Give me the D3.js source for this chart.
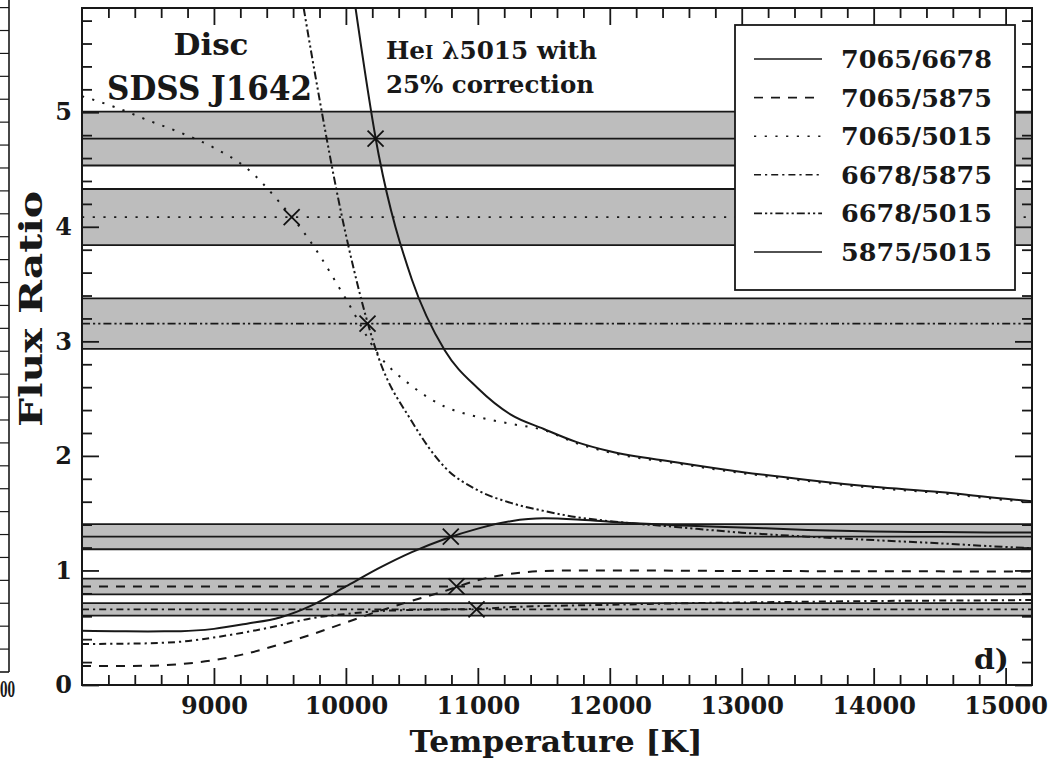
<!DOCTYPE html>
<html>
<head>
<meta charset="utf-8">
<script src="https://cdn.jsdelivr.net/npm/d3@7/dist/d3.min.js"></script>
<style>
  html, body { margin: 0; padding: 0; background: #fff; }
  svg { display: block; font-family: "DejaVu Serif", serif; font-weight: bold; }
</style>
</head>
<body>
<svg id="chart" width="1049" height="762"></svg>
<script>
// Model temperature grid (K)
const temps = [8000, 8250, 8500, 8750, 9000, 9250, 9500, 9750, 10000, 10250, 10500, 10750,
               11000, 11250, 11500, 11750, 12000, 12500, 13000, 13500, 14000, 14500, 15000, 15200];

// Model line-flux ratios (null where off the plotted range)
const ratio7065_6678 = [null, null, null, null, null, null, null, 8.6, 6.5, 4.62, 3.54, 2.92,
                        2.59, 2.36, 2.235, 2.12, 2.04, 1.945, 1.86, 1.79, 1.73, 1.685, 1.625, 1.605];
const ratio7065_5875 = [0.166, 0.166, 0.168, 0.183, 0.217, 0.275, 0.355, 0.445, 0.545, 0.645, 0.735, 0.82,
                        0.915, 0.97, 0.995, 1.0, 1.0, 0.998, 0.995, 0.994, 0.993, 0.992, 0.99, 0.99];
const ratio7065_5015 = [5.14, 5.045, 4.93, 4.82, 4.69, 4.51, 4.21, 3.84, 3.37, 2.88, 2.61, 2.43,
                        2.34, 2.28, 2.225, 2.11, 2.03, 1.935, 1.85, 1.78, 1.72, 1.675, 1.615, 1.595];
const ratio6678_5875 = [0.358, 0.36, 0.364, 0.378, 0.415, 0.463, 0.52, 0.585, 0.62, 0.645, 0.655, 0.66,
                        0.665, 0.68, 0.69, 0.695, 0.70, 0.713, 0.72, 0.727, 0.733, 0.737, 0.74, 0.742];
const ratio6678_5015 = [null, null, null, null, null, null, 7.2, 5.44, 3.93, 2.85, 2.30, 1.90,
                        1.70, 1.59, 1.52, 1.465, 1.43, 1.38, 1.33, 1.295, 1.265, 1.237, 1.205, 1.194];
const ratio5875_5015 = [0.474, 0.47, 0.468, 0.47, 0.49, 0.535, 0.59, 0.70, 0.86, 1.02, 1.16, 1.275,
                        1.365, 1.43, 1.455, 1.445, 1.425, 1.395, 1.375, 1.354, 1.34, 1.335, 1.332, 1.332];

// Series names (legend order)
const seriesNames = ["7065/6678", "7065/5875", "7065/5015", "6678/5875", "6678/5015", "5875/5015"];

// Observed ratios and their uncertainties, same order as the series
const observedRatio = [4.77, 0.86, 4.085, 0.66, 3.155, 1.295];
const observedError = [0.235, 0.068, 0.245, 0.055, 0.22, 0.11];
// Temperatures where each model crosses its observed value
const crossTemps = [10225, 10838, 9589, 10990, 10164, 10795];

// Axis ticks
const xMajorTicks = [9000, 10000, 11000, 12000, 13000, 14000, 15000];
const yMajorTicks = [0, 1, 2, 3, 4, 5];

(function () {
  const seriesValues = [ratio7065_6678, ratio7065_5875, ratio7065_5015, ratio6678_5875, ratio6678_5015, ratio5875_5015];
  const dashes = [null, "9,8", "2.2,8.5", "7,4,2.2,4", "8,3,2.2,3,2.2,3", null];
  const ink = "#181818";

  const svg = d3.select("#chart");
  const W = 1049, H = 762;
  svg.append("rect").attr("width", W).attr("height", H).attr("fill", "#fff");

  const pL = 82, pR = 1032, pT = 8, pB = 685;
  const x = d3.scaleLinear().domain([8000, 15200]).range([pL, pR]);
  const y = d3.scaleLinear().domain([0, 5.91]).range([pB, pT]);

  // Edge of the neighbouring panel at the left border
  const side = svg.append("g");
  side.append("line").attr("x1", 9).attr("x2", 9).attr("y1", 0).attr("y2", pB - 13)
    .attr("stroke", ink).attr("stroke-width", 1.6);
  side.append("line").attr("x1", 0).attr("x2", 9).attr("y1", pB - 13).attr("y2", pB - 13)
    .attr("stroke", ink).attr("stroke-width", 1.6);
  side.selectAll("line.sideTick").data(d3.range(1, 30)).join("line")
    .attr("class", "sideTick")
    .attr("x1", 0).attr("x2", 9)
    .attr("y1", k => y(k * 0.2) - 13).attr("y2", k => y(k * 0.2) - 13)
    .attr("stroke", ink).attr("stroke-width", 1.2);
  side.append("text").attr("x", 0).attr("y", 697)
    .attr("font-size", 22).attr("fill", ink)
    .attr("textLength", 15).attr("lengthAdjust", "spacingAndGlyphs")
    .text("00");

  svg.append("clipPath").attr("id", "plotClip")
    .append("rect").attr("x", pL).attr("y", pT).attr("width", pR - pL).attr("height", pB - pT);

  const plot = svg.append("g").attr("clip-path", "url(#plotClip)");

  const obs = seriesNames.map((n, i) => ({ name: n, c: observedRatio[i], e: observedError[i], t: crossTemps[i], dash: dashes[i] }));

  // Observed-ratio bands
  plot.selectAll("rect.band").data(obs).join("rect")
    .attr("class", "band")
    .attr("x", pL).attr("width", pR - pL)
    .attr("y", d => y(d.c + d.e))
    .attr("height", d => y(d.c - d.e) - y(d.c + d.e))
    .attr("fill", "#bdbdbd");
  obs.forEach(d => {
    [d.c + d.e, d.c - d.e].forEach(v => {
      plot.append("line").attr("x1", pL).attr("x2", pR).attr("y1", y(v)).attr("y2", y(v))
        .attr("stroke", ink).attr("stroke-width", 1.8);
    });
  });
  // Observed centre lines in the series' line style
  plot.selectAll("line.obs").data(obs).join("line")
    .attr("class", "obs")
    .attr("x1", pL).attr("x2", pR)
    .attr("y1", d => y(d.c)).attr("y2", d => y(d.c))
    .attr("stroke", ink).attr("stroke-width", 1.8)
    .attr("stroke-dasharray", d => d.dash);

  // Model curves
  const line = d3.line()
    .defined(d => d.v !== null)
    .x(d => x(d.t)).y(d => y(d.v))
    .curve(d3.curveMonotoneX);
  seriesNames.forEach((n, i) => {
    const pts = temps.map((t, j) => ({ t: t, v: seriesValues[i][j] }));
    plot.append("path").datum(pts)
      .attr("d", line)
      .attr("fill", "none")
      .attr("stroke", ink)
      .attr("stroke-width", 2)
      .attr("stroke-dasharray", dashes[i]);
  });

  // Crossing markers
  plot.selectAll("path.cross").data(obs).join("path")
    .attr("class", "cross")
    .attr("d", d => {
      const cx = x(d.t), cy = y(d.c), s = 8;
      return `M${cx - s},${cy - s}L${cx + s},${cy + s}M${cx - s},${cy + s}L${cx + s},${cy - s}`;
    })
    .attr("stroke", "#111").attr("stroke-width", 1.8).attr("fill", "none");

  // Legend
  const leg = svg.append("g").attr("transform", "translate(735,25)");
  leg.append("rect").attr("width", 280).attr("height", 265)
    .attr("fill", "#fff").attr("stroke", ink).attr("stroke-width", 1.8);
  obs.forEach((d, i) => {
    const yy = 34 + i * 38.6;
    leg.append("line").attr("x1", 19).attr("x2", 87).attr("y1", yy).attr("y2", yy)
      .attr("stroke", ink).attr("stroke-width", 1.6).attr("stroke-dasharray", d.dash);
    leg.append("text").attr("x", 106).attr("y", yy + 9)
      .attr("font-size", 25).attr("fill", ink)
      .attr("textLength", 151).attr("lengthAdjust", "spacingAndGlyphs")
      .text(d.name);
  });

  // Axes: ticks on all four sides, pointing inward
  const xMinor = d3.range(8200, 15200, 200).filter(v => v % 1000 !== 0);
  const yMinor = d3.range(0.2, 5.9, 0.2).filter(v => Math.abs(v - Math.round(v)) > 1e-6);

  function styleAxis(g) {
    g.select(".domain").remove();
    g.selectAll(".tick line").attr("stroke", ink).attr("stroke-width", 1.8);
    g.selectAll(".tick text").attr("fill", ink).attr("font-size", 24)
      .attr("font-family", "DejaVu Serif").attr("font-weight", "bold");
  }
  svg.append("g").attr("transform", `translate(0,${pB})`)
    .call(d3.axisBottom(x).tickValues(xMajorTicks).tickSize(-17).tickPadding(12).tickFormat(d3.format("d")))
    .call(styleAxis);
  svg.append("g").attr("transform", `translate(0,${pB})`)
    .call(d3.axisBottom(x).tickValues(xMinor).tickSize(-10).tickFormat(""))
    .call(styleAxis);
  svg.append("g").attr("transform", `translate(0,${pT})`)
    .call(d3.axisTop(x).tickValues(xMajorTicks).tickSize(-17).tickFormat(""))
    .call(styleAxis);
  svg.append("g").attr("transform", `translate(0,${pT})`)
    .call(d3.axisTop(x).tickValues(xMinor).tickSize(-10).tickFormat(""))
    .call(styleAxis);
  svg.append("g").attr("transform", `translate(${pL},0)`)
    .call(d3.axisLeft(y).tickValues(yMajorTicks).tickSize(-17).tickPadding(10).tickFormat(d3.format("d")))
    .call(styleAxis);
  svg.append("g").attr("transform", `translate(${pL},0)`)
    .call(d3.axisLeft(y).tickValues(yMinor).tickSize(-10).tickFormat(""))
    .call(styleAxis);
  svg.append("g").attr("transform", `translate(${pR},0)`)
    .call(d3.axisRight(y).tickValues(yMajorTicks).tickSize(-17).tickFormat(""))
    .call(styleAxis);
  svg.append("g").attr("transform", `translate(${pR},0)`)
    .call(d3.axisRight(y).tickValues(yMinor).tickSize(-10).tickFormat(""))
    .call(styleAxis);

  // Frame
  svg.append("rect").attr("x", pL).attr("y", pT).attr("width", pR - pL).attr("height", pB - pT)
    .attr("fill", "none").attr("stroke", ink).attr("stroke-width", 2);

  // Axis titles
  svg.append("text").attr("x", 556).attr("y", 752).attr("text-anchor", "middle")
    .attr("font-size", 30).attr("fill", ink)
    .attr("textLength", 293).attr("lengthAdjust", "spacingAndGlyphs")
    .text("Temperature [K]");
  svg.append("text").attr("transform", "translate(42,309) rotate(-90)").attr("text-anchor", "middle")
    .attr("font-size", 31).attr("fill", ink)
    .attr("textLength", 236).attr("lengthAdjust", "spacingAndGlyphs")
    .text("Flux Ratio");

  // Annotations
  svg.append("text").attr("x", 211).attr("y", 55).attr("text-anchor", "middle")
    .attr("font-size", 29).attr("fill", ink)
    .attr("textLength", 75).attr("lengthAdjust", "spacingAndGlyphs")
    .text("Disc");
  svg.append("text").attr("x", 209.5).attr("y", 100).attr("text-anchor", "middle")
    .attr("font-size", 34).attr("fill", ink)
    .attr("textLength", 205).attr("lengthAdjust", "spacingAndGlyphs")
    .text("SDSS J1642");
  const he = svg.append("text").attr("x", 386).attr("y", 59).attr("font-size", 25).attr("fill", ink)
    .attr("textLength", 211).attr("lengthAdjust", "spacingAndGlyphs");
  he.append("tspan").text("He");
  he.append("tspan").attr("font-size", 18).text("I");
  he.append("tspan").text(" \u03BB5015 with");
  svg.append("text").attr("x", 386).attr("y", 93).attr("font-size", 25).attr("fill", ink)
    .attr("textLength", 208).attr("lengthAdjust", "spacingAndGlyphs")
    .text("25% correction");
  svg.append("text").attr("x", 974).attr("y", 669).attr("font-size", 28).attr("fill", ink)
    .attr("textLength", 35).attr("lengthAdjust", "spacingAndGlyphs")
    .text("d)");
})();
</script>
</body>
</html>
